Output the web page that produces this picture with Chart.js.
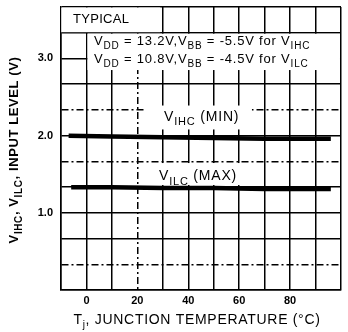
<!DOCTYPE html>
<html>
<head>
<meta charset="utf-8">
<script src="https://cdn.jsdelivr.net/npm/chart.js@4.4.0/dist/chart.umd.min.js"></script>
<style>
html, body { margin: 0; padding: 0; background: #fff; }
</style>
</head>
<body>
<canvas id="grafico" width="348" height="332"></canvas>
<script>
// junction temperature (°C) and input levels (V)
const tempIHC = [-7, 10, 30, 50, 70, 96];
const vIHC = [2.0, 1.99, 1.98, 1.97, 1.96, 1.96];
const tempILC = [-6, 10, 30, 50, 70, 96];
const vILC = [1.33, 1.33, 1.32, 1.32, 1.31, 1.31];

const xTickLabels = [0, 20, 40, 60, 80];
const yTickLabels = [1.0, 2.0, 3.0];

const FONTE = '"Liberation Sans", Arial, sans-serif';

// "V_{DD}" -> [{t:'V'},{t:'DD',sub:true}]
function partes(texto) {
	let res = [];
	texto.split(/(_\{[^}]*\})/).forEach((p) => {
		if (!p) return;
		if (p.startsWith('_{')) res.push({ t: p.slice(2, -1), sub: true });
		else res.push({ t: p, sub: false });
	});
	return res;
}

function textoRico(ctx, texto, x, y, tam, peso, align, esp, fsub) {
	let lista = partes(texto);
	let fonte = (sub) => peso + ' ' + (sub ? Math.round(tam * fsub) : tam) + 'px ' + FONTE;
	ctx.letterSpacing = esp + 'px';
	let largura = 0;
	lista.forEach((p) => { ctx.font = fonte(p.sub); largura += ctx.measureText(p.t).width; });
	let cx = align === 'center' ? x - largura / 2 : x;
	ctx.textAlign = 'left';
	ctx.textBaseline = 'middle';
	lista.forEach((p) => {
		ctx.font = fonte(p.sub);
		ctx.fillText(p.t, cx, p.sub ? y + tam * 0.38 : y);
		cx += ctx.measureText(p.t).width;
	});
	ctx.letterSpacing = '0px';
}

function caixaBranca(chart, x0, x1, y0, y1) {
	let sx = chart.scales.x, sy = chart.scales.y;
	let a = sx.getPixelForValue(x0), b = sx.getPixelForValue(x1);
	let c = sy.getPixelForValue(y1), d = sy.getPixelForValue(y0);
	chart.ctx.fillStyle = '#fff';
	chart.ctx.fillRect(a, c, b - a, d - c);
}

const anotacoes = {
	id: 'anotacoes',
	beforeDatasetsDraw(chart) {
		let ctx = chart.ctx, sx = chart.scales.x, sy = chart.scales.y;
		ctx.save();
		caixaBranca(chart, -9.9, 29, 3.34, 3.66);
		caixaBranca(chart, 0.4, 99.6, 2.85, 3.32);
		caixaBranca(chart, 23, 65, 2.08, 2.39);
		caixaBranca(chart, 25, 65, 1.36, 1.645);
		ctx.fillStyle = '#000';
		textoRico(ctx, 'TYPICAL', sx.getPixelForValue(-5.3), sy.getPixelForValue(3.5), 13, 'normal', 'left', 0.3, 0.75);
		textoRico(ctx, 'V_{DD} = 13.2V,V_{BB} = -5.5V for V_{IHC}', sx.getPixelForValue(3), sy.getPixelForValue(3.225), 13, 'normal', 'left', 0.8, 0.78);
		textoRico(ctx, 'V_{DD} = 10.8V,V_{BB} = -4.5V for V_{ILC}', sx.getPixelForValue(3), sy.getPixelForValue(2.99), 13, 'normal', 'left', 0.8, 0.78);
		textoRico(ctx, 'V_{IHC} (MIN)', sx.getPixelForValue(30.5), sy.getPixelForValue(2.24), 14, 'normal', 'left', 0.8, 0.78);
		textoRico(ctx, 'V_{ILC} (MAX)', sx.getPixelForValue(28.5), sy.getPixelForValue(1.47), 14, 'normal', 'left', 0.8, 0.78);
		ctx.restore();
	},
	afterDraw(chart) {
		let ctx = chart.ctx;
		ctx.save();
		ctx.fillStyle = '#000';
		textoRico(ctx, 'T_{j}, JUNCTION TEMPERATURE (°C)', 197, 320, 14, 'normal', 'center', 0.7, 0.72);
		ctx.translate(14, 150);
		ctx.rotate(-Math.PI / 2);
		textoRico(ctx, 'V_{IHC}, V_{ILC}, INPUT LEVEL (V)', 0, 0, 13, 'bold', 'center', 0.6, 0.75);
		ctx.restore();
	}
};

const tracejado = [7, 3, 2, 3];

new Chart(document.getElementById('grafico'), {
	type: 'line',
	data: {
		datasets: [{
			label: 'VIHC (MIN)',
			data: tempIHC.map((t, i) => ({ x: t, y: vIHC[i] })),
			borderColor: '#000',
			borderWidth: 4.5,
			pointRadius: 0,
			tension: 0
		}, {
			label: 'VILC (MAX)',
			data: tempILC.map((t, i) => ({ x: t, y: vILC[i] })),
			borderColor: '#000',
			borderWidth: 4.5,
			pointRadius: 0,
			tension: 0
		}]
	},
	options: {
		responsive: false,
		animation: false,
		devicePixelRatio: 1,
		layout: { padding: { top: 7, right: 7, left: 0, bottom: 0 } },
		plugins: {
			legend: { display: false },
			tooltip: { enabled: false }
		},
		scales: {
			x: {
				type: 'linear',
				min: -10,
				max: 100,
				afterFit: (scale) => {
					scale.height = 42;
					scale.paddingLeft = 0;
					scale.paddingRight = 0;
				},
				afterBuildTicks: (scale) => {
					let t = [];
					for (let v = -10; v <= 100; v += 10) t.push({ value: v });
					scale.ticks = t;
				},
				ticks: {
					color: '#000',
					padding: 4,
					maxRotation: 0,
					autoSkip: false,
					font: { family: FONTE, size: 11, weight: 'bold' },
					callback: (v) => xTickLabels.includes(v) ? String(v) : ''
				},
				grid: {
					color: '#000',
					lineWidth: 1.5,
					drawTicks: false
				},
				border: {
					color: '#000',
					width: 1.5,
					dash: (ctx) => ctx.tick && ctx.tick.value === 20 ? tracejado : []
				}
			},
			y: {
				min: 0,
				max: 11 / 3,
				afterFit: (scale) => {
					scale.width = 61;
					scale.paddingTop = 0;
					scale.paddingBottom = 0;
				},
				afterBuildTicks: (scale) => {
					let t = [];
					for (let i = 0; i <= 11; i++) t.push({ value: i / 3 });
					scale.ticks = t;
				},
				ticks: {
					color: '#000',
					padding: 8,
					autoSkip: false,
					font: { family: FONTE, size: 11, weight: 'bold' },
					callback: (v) => {
						let r = yTickLabels.find((l) => Math.abs(l - v) < 1e-6);
						return r === undefined ? '' : r.toFixed(1);
					}
				},
				grid: {
					color: '#000',
					lineWidth: 1.5,
					drawTicks: false
				},
				border: {
					color: '#000',
					width: 1.5,
					dash: (ctx) => {
						if (!ctx.tick) return [];
						let k = Math.round(ctx.tick.value * 3);
						return (k === 1 || k === 5 || k === 7) ? tracejado : [];
					}
				}
			}
		}
	},
	plugins: [anotacoes]
});
</script>
</body>
</html>
